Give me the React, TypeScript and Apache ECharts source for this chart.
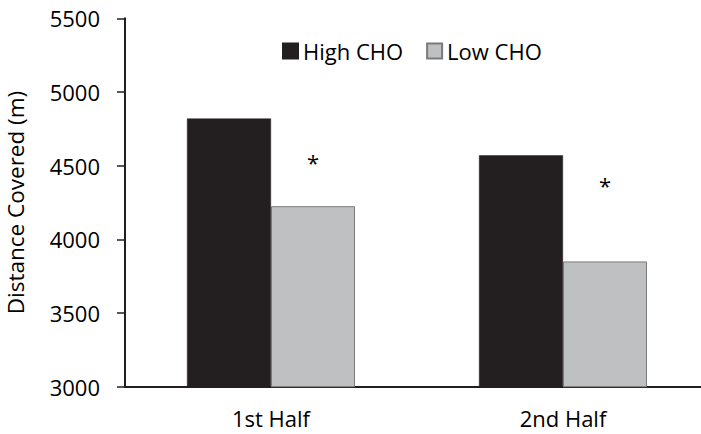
import React, { useEffect, useRef } from "react";
import * as echarts from "echarts";

const categories = ["1st Half", "2nd Half"];
const highCHO = [4820, 4570];
const lowCHO = [4225, 3850];
const asteriskY = [4538, 4382];
const yTicks = { min: 3000, max: 5500, interval: 500 };

const FONT = "'Open Sans', sans-serif";
const BAR_W = 84;

export default function App() {
  const ref = useRef<HTMLDivElement>(null);
  useEffect(() => {
    const chart = echarts.init(ref.current!, null, { renderer: "svg" });
    chart.setOption({
      animation: false,
      textStyle: { fontFamily: FONT },
      legend: {
        data: ["High CHO", "Low CHO"],
        top: 35,
        left: 277,
        itemWidth: 15,
        itemHeight: 15,
        itemGap: 23,
        icon: "rect",
        textStyle: { fontFamily: FONT, fontSize: 22, color: "#000" },
      },
      grid: {
        left: 125,
        top: 18.3,
        bottom: 47.3,
        width: 584,
        containLabel: false,
        outerBoundsMode: "none",
      },
      xAxis: {
        type: "category",
        data: categories,
        axisLine: { lineStyle: { color: "#231F20", width: 2 } },
        axisTick: { show: false },
        axisLabel: { fontFamily: FONT, fontSize: 22, color: "#000", margin: 20 },
      },
      yAxis: {
        type: "value",
        min: yTicks.min,
        max: yTicks.max,
        interval: yTicks.interval,
        name: "Distance Covered (m)",
        nameLocation: "middle",
        nameGap: 98,
        nameTextStyle: { fontFamily: FONT, fontSize: 22.5, color: "#000" },
        axisLine: { show: true, lineStyle: { color: "#231F20", width: 2 } },
        axisTick: { show: true, length: 8, lineStyle: { color: "#231F20", width: 1.5 } },
        splitLine: { show: false },
        axisLabel: {
          fontFamily: FONT,
          fontSize: 22,
          color: "#000",
          margin: 25,
          formatter: (v: number) => String(v),
        },
      },
      series: [
        {
          name: "High CHO",
          type: "bar",
          data: highCHO,
          barWidth: BAR_W,
          barGap: "0%",
          itemStyle: { color: "#231F20", borderColor: "#231F20", borderWidth: 0.5 },
        },
        {
          name: "Low CHO",
          type: "bar",
          data: lowCHO,
          barWidth: BAR_W,
          barGap: "0%",
          itemStyle: { color: "#BFC0C2", borderColor: "#7a7a7a", borderWidth: 1 },
        },
        {
          name: "sig",
          type: "custom",
          data: asteriskY.map((v, i) => [i, v]),
          renderItem: (params: any, api: any) => {
            const p = api.coord([api.value(0), api.value(1)]);
            return {
              type: "text",
              x: p[0] + BAR_W / 2,
              y: p[1] + 2,
              style: {
                text: "*",
                fontFamily: FONT,
                fontSize: 22,
                fill: "#000",
                align: "center",
                verticalAlign: "middle",
              },
            };
          },
          silent: true,
          z: 10,
        },
      ],
    });
    return () => chart.dispose();
  }, []);
  return (
    <div
      ref={ref}
      style={{ position: "fixed", left: 0, top: 0, width: 701, height: 434, background: "#fff" }}
    />
  );
}
